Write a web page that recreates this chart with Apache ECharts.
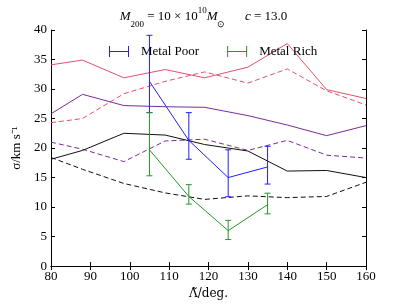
<!DOCTYPE html>
<html>
<head>
<meta charset="utf-8">
<script src="https://cdn.jsdelivr.net/npm/echarts@6/dist/echarts.min.js"></script>
<style>html,body{margin:0;padding:0;background:#fff;}#c{width:407px;height:305px;}</style>
</head>
<body>
<div id="c"></div>
<script>
var xBins = [80, 88, 98.5, 109, 119, 130, 140, 150, 160];
var redSolid = [34.1, 34.9, 31.9, 33.3, 31.9, 33.7, 37.7, 29.9, 28.4];
var redDash = [24.3, 25.0, 29.2, 31.3, 32.9, 31.0, 33.4, 29.7, 27.3];
var purpleSolid = [25.8, 29.1, 27.2, 27.0, 26.9, 25.5, 23.9, 22.1, 23.8];
var purpleDash = [21.0, 19.8, 17.7, 21.2, 21.5, 19.6, 21.3, 18.8, 18.3];
var blackSolid = [18.1, 19.6, 22.5, 22.2, 20.6, 19.5, 16.1, 16.2, 15.0];
var blackDash = [18.4, 16.4, 14.0, 12.4, 11.3, 11.9, 11.6, 11.8, 14.2];

var xErr = [105, 115, 125, 135];
var poorVal = [31.3, 21.3, 15.0, 16.8];
var poorLow = [26.0, 18.1, 11.75, 13.9];
var poorHigh = [39.1, 26.0, 19.7, 20.3];
var richVal = [19.7, 11.8, 6.0, 10.4];
var richLow = [15.3, 10.5, 4.5, 8.85];
var richHigh = [26.0, 13.8, 7.75, 12.35];

var xTicks = [80, 90, 100, 110, 120, 130, 140, 150, 160];
var yTicks = [0, 5, 10, 15, 20, 25, 30, 35, 40];

var RED = '#e4506a', PURPLE = '#7a2c9c', BLUE = '#1f1fff', GREEN = '#27962a', BLACK = '#111111';
var SERIF = '"Liberation Serif", "Times New Roman", serif';

function pairs(xs, ys) { return xs.map(function (x, i) { return [x, ys[i]]; }); }
function triples(xs, lo, hi) { return xs.map(function (x, i) { return [x, lo[i], hi[i]]; }); }

function lineSeries(name, data, color, dashed) {
  return {
    name: name, type: 'line', data: pairs(xBins, data), symbol: 'none', silent: true,
    lineStyle: { color: color, width: 1, type: dashed ? [5, 3] : 'solid' }, z: 2
  };
}

function errRender(color) {
  return function (params, api) {
    var x = api.value(0);
    var p1 = api.coord([x, api.value(1)]);
    var p2 = api.coord([x, api.value(2)]);
    var h = 3;
    var st = { stroke: color, lineWidth: 1 };
    return {
      type: 'group',
      children: [
        { type: 'line', shape: { x1: p1[0], y1: p1[1], x2: p2[0], y2: p2[1] }, style: st },
        { type: 'line', shape: { x1: p1[0] - h, y1: p1[1], x2: p1[0] + h, y2: p1[1] }, style: st },
        { type: 'line', shape: { x1: p2[0] - h, y1: p2[1], x2: p2[0] + h, y2: p2[1] }, style: st }
      ]
    };
  };
}

var ICON = 'path://M0,0h1v11h-1z M1,5h18v1h-18z M19,0h1v11h-1z';

var axisCommon = {
  type: 'value', splitLine: { show: false },
  axisLine: { show: true, lineStyle: { color: '#000', width: 1 } },
  axisTick: { show: true, inside: true, length: 4, lineStyle: { color: '#000' } },
  axisLabel: { color: '#000', fontFamily: SERIF, fontSize: 13 }
};

var T = { fontFamily: SERIF, color: '#000', fontWeight: 'normal', lineHeight: 18 };
function st(extra) { return Object.assign({}, T, extra); }

var option = {
  animation: false,
  backgroundColor: '#fff',
  textStyle: { fontFamily: SERIF },
  title: {
    text: '{i|M}{sub|200}{n| = 10 × 10}{sup|10}{i|M}{sub|⊙}{n|      }{i|c}{n| = 13.0}',
    left: 'center', top: 3,
    textStyle: {
      fontWeight: 'normal',
      rich: {
        i: st({ fontStyle: 'italic', fontSize: 13, verticalAlign: 'middle' }),
        n: st({ fontSize: 13, verticalAlign: 'middle' }),
        sub: st({ fontSize: 9, verticalAlign: 'bottom', padding: [0, 0, -3, 0] }),
        sup: st({ fontSize: 9, verticalAlign: 'top', padding: [-2, 0, 0, 0] })
      }
    }
  },
  legend: {
    left: 104, top: 40, itemWidth: 20, itemHeight: 11, itemGap: 28,
    textStyle: { fontFamily: SERIF, fontSize: 13, color: '#000', padding: [0, 0, 0, 7] },
    data: [
      { name: 'Metal Poor', icon: ICON, itemStyle: { color: BLUE } },
      { name: 'Metal Rich', icon: ICON, itemStyle: { color: GREEN } }
    ],
    selectedMode: false
  },
  grid: { left: 51, right: 41, top: 30, bottom: 31 },
  xAxis: [
    Object.assign({}, axisCommon, {
      min: 80, max: 160, interval: 10, position: 'bottom',
      name: 'Λ\u0303/deg.', nameLocation: 'middle', nameGap: 21,
      nameTextStyle: { fontFamily: '"DejaVu Serif", serif', fontSize: 12, color: '#000' },
      axisLabel: { color: '#000', fontFamily: SERIF, fontSize: 13, margin: 4,
        formatter: function (v) { return xTicks.indexOf(v) >= 0 ? String(v) : ''; } }
    }),
    Object.assign({}, axisCommon, {
      min: 80, max: 160, interval: 10, position: 'top', axisLabel: { show: false }
    })
  ],
  yAxis: [
    Object.assign({}, axisCommon, {
      min: 0, max: 40, interval: 5, position: 'left',
      name: 'σ/km s⁻¹', nameLocation: 'middle', nameGap: 28, nameRotate: 90,
      nameTextStyle: { fontFamily: SERIF, fontSize: 13, color: '#000' },
      axisLabel: { color: '#000', fontFamily: SERIF, fontSize: 13, margin: 4,
        formatter: function (v) { return yTicks.indexOf(v) >= 0 ? String(v) : ''; } }
    }),
    Object.assign({}, axisCommon, {
      min: 0, max: 40, interval: 5, position: 'right', axisLabel: { show: false }
    })
  ],
  series: [
    lineSeries('rs', redSolid, RED, false),
    lineSeries('rd', redDash, RED, true),
    lineSeries('ps', purpleSolid, PURPLE, false),
    lineSeries('pd', purpleDash, PURPLE, true),
    lineSeries('bs', blackSolid, BLACK, false),
    lineSeries('bd', blackDash, BLACK, true),
    { name: 'Metal Poor', type: 'custom', renderItem: errRender(BLUE), data: triples(xErr, poorLow, poorHigh),
      encode: { x: 0, y: [1, 2] }, itemStyle: { color: BLUE }, z: 3, silent: true },
    { name: 'Metal Poor', type: 'line', data: pairs(xErr, poorVal), symbol: 'none', silent: true,
      lineStyle: { color: BLUE, width: 1 }, itemStyle: { color: BLUE }, z: 3 },
    { name: 'Metal Rich', type: 'custom', renderItem: errRender(GREEN), data: triples(xErr, richLow, richHigh),
      encode: { x: 0, y: [1, 2] }, itemStyle: { color: GREEN }, z: 4, silent: true },
    { name: 'Metal Rich', type: 'line', data: pairs(xErr, richVal), symbol: 'none', silent: true,
      lineStyle: { color: GREEN, width: 1 }, itemStyle: { color: GREEN }, z: 4 }
  ]
};

var chart = echarts.init(document.getElementById('c'), null, { renderer: 'canvas' });
chart.setOption(option);
</script>
</body>
</html>
